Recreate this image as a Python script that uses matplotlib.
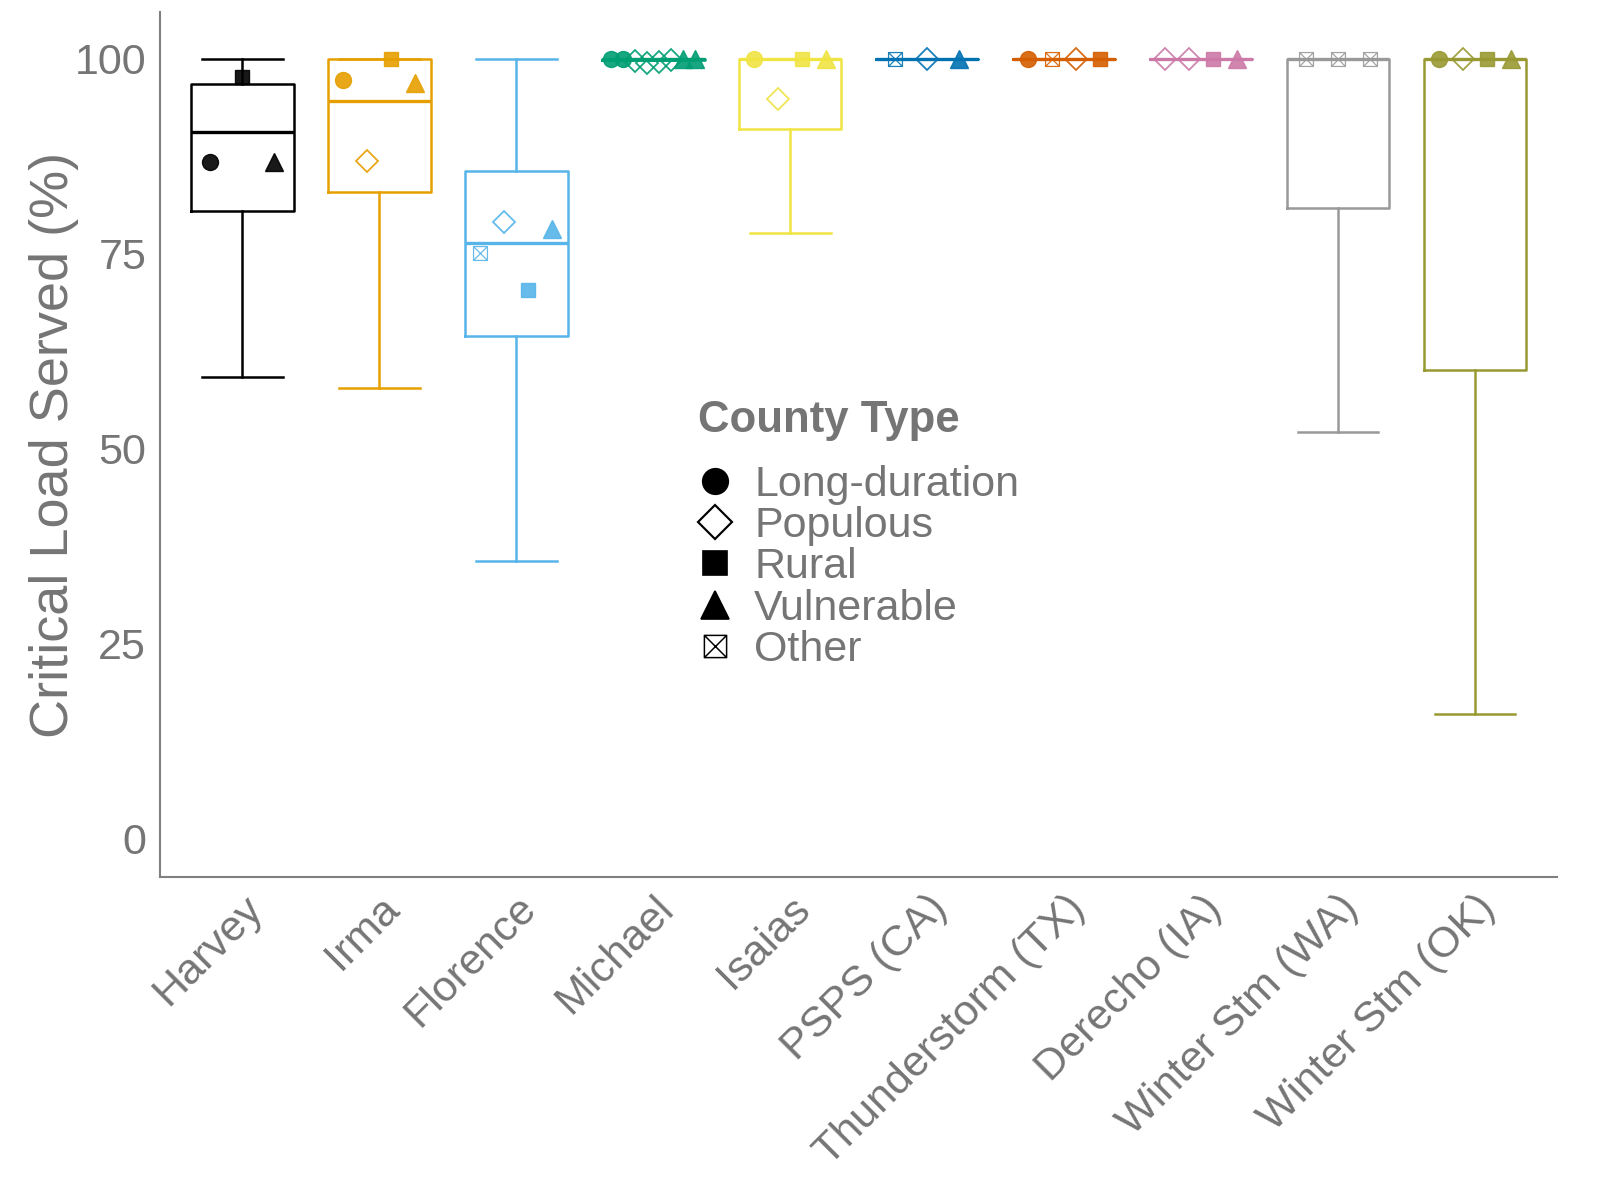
import matplotlib
matplotlib.use("Agg")
import matplotlib.pyplot as plt
from matplotlib.path import Path
from matplotlib.lines import Line2D
import matplotlib.transforms as mtransforms
import numpy as np

plt.rcParams['font.family'] = ['Liberation Sans', 'DejaVu Sans']

events = ["Harvey", "Irma", "Florence", "Michael", "Isaias", "PSPS (CA)",
          "Thunderstorm (TX)", "Derecho (IA)", "Winter Stm (WA)", "Winter Stm (OK)"]
colors = ["#000000", "#E69F00", "#56B4E9", "#009E73", "#F0E442", "#0072B2",
          "#D55E00", "#CC79A7", "#999999", "#999933"]

# box statistics (% critical load served)
whislo = [59.2, 57.8, 35.6, 99.8, 77.6, 100, 100, 100, 52.1, 15.9]
q1     = [80.5, 82.9, 64.4, 99.8, 91.0, 100, 100, 100, 80.8, 60.0]
med    = [90.6, 94.6, 76.3, 100, 100, 100, 100, 100, 100, 100]
q3     = [96.7, 100, 85.6, 100, 100, 100, 100, 100, 100, 100]
whishi = [100, 100, 100, 100, 100, 100, 100, 100, 100, 100]

# county-type points per event
pt_types = [
    ["Long-duration", "Rural", "Vulnerable"],
    ["Long-duration", "Populous", "Rural", "Vulnerable"],
    ["Other", "Populous", "Rural", "Vulnerable"],
    ["Long-duration", "Long-duration", "Populous", "Populous", "Populous", "Populous",
     "Vulnerable", "Vulnerable"],
    ["Long-duration", "Populous", "Rural", "Vulnerable"],
    ["Other", "Populous", "Vulnerable"],
    ["Long-duration", "Other", "Populous", "Rural"],
    ["Populous", "Populous", "Rural", "Vulnerable"],
    ["Other", "Other", "Other"],
    ["Long-duration", "Populous", "Rural", "Vulnerable"],
]
pt_values = [
    [86.7, 97.6, 86.8],
    [97.3, 86.9, 100, 96.9],
    [75.1, 79.0, 70.3, 78.2],
    [100, 100, 99.7, 99.5, 99.6, 99.8, 100, 100],
    [100, 94.9, 100, 100],
    [100, 100, 100],
    [100, 100, 100, 100],
    [100, 100, 100, 100],
    [100, 100, 100],
    [100, 100, 100, 100],
]

type_order = ["Long-duration", "Populous", "Rural", "Vulnerable", "Other"]

# boxed-X marker
other_marker = Path(
    [(-1, -1), (1, -1), (1, 1), (-1, 1), (-1, -1), (-1, -1), (1, 1), (-1, 1), (1, -1)],
    [Path.MOVETO, Path.LINETO, Path.LINETO, Path.LINETO, Path.CLOSEPOLY,
     Path.MOVETO, Path.LINETO, Path.MOVETO, Path.LINETO])

style = {
    "Long-duration": dict(marker="o", ms=11.5, filled=True, mew=1.0),
    "Populous": dict(marker="D", ms=11, filled=False, mew=1.3),
    "Rural": dict(marker="s", ms=10.5, filled=True, mew=1.0),
    "Vulnerable": dict(marker="^", ms=13, filled=True, mew=1.0),
    "Other": dict(marker=other_marker, ms=10, filled=False, mew=0.9),
}

fig = plt.figure(figsize=(16.2, 12.02), dpi=100)
ax = fig.add_axes([0.0988, 0.2704, 0.9612 - 0.0988, 0.99 - 0.2704])

positions = np.arange(1, len(events) + 1)
grey = "#757575"

for i, ev in enumerate(events):
    c = colors[i]
    stats = [dict(whislo=whislo[i], q1=q1[i], med=med[i], q3=q3[i], whishi=whishi[i], fliers=[])]
    ax.bxp(stats, positions=[positions[i]], widths=0.75, showfliers=False,
           capwidths=0.59, patch_artist=False,
           boxprops=dict(color=c, linewidth=1.8),
           whiskerprops=dict(color=c, linewidth=1.8),
           capprops=dict(color=c, linewidth=1.8),
           medianprops=dict(color=c, linewidth=2.4), manage_ticks=False)
    n = len(pt_values[i])
    for j, (t, v) in enumerate(zip(pt_types[i], pt_values[i])):
        xo = positions[i] + (j - (n - 1) / 2) * 0.7 / n
        s = style[t]
        ax.plot([xo], [v], linestyle="none", marker=s["marker"], markersize=s["ms"],
                markerfacecolor=c if s["filled"] else "none",
                markeredgecolor=c, markeredgewidth=s["mew"], alpha=0.9, zorder=3)

ax.set_xlim(0.4, 10.6)
ax.set_ylim(-5, 106)
ax.set_yticks([0, 25, 50, 75, 100])
ax.set_xticks(positions)
ax.set_xticklabels(events, rotation=45, ha="right", va="top", rotation_mode="anchor")
offset = mtransforms.ScaledTranslation(0.2, -0.05, fig.dpi_scale_trans)
for lbl in ax.get_xticklabels():
    lbl.set_transform(lbl.get_transform() + offset)
ax.tick_params(axis="both", length=0, labelsize=31, labelcolor=grey)
ax.tick_params(axis="y", pad=10)
ax.tick_params(axis="x", pad=8)
for sp in ["top", "right"]:
    ax.spines[sp].set_visible(False)
for sp in ["left", "bottom"]:
    ax.spines[sp].set_color("#808080")
    ax.spines[sp].set_linewidth(1.5)
ax.set_ylabel("Critical Load Served (%)", fontsize=39, color=grey)
ax.yaxis.set_label_coords(-0.0577, 0.5)

handles = []
for t in type_order:
    s = style[t]
    handles.append(Line2D([], [], linestyle="none", marker=s["marker"],
                          markersize=s["ms"] * 1.6,
                          markerfacecolor="black" if s["filled"] else "none",
                          markeredgecolor="black", markeredgewidth=s["mew"] * 1.2,
                          label=t))
ax.text(0.385, 0.528, "County Type", transform=ax.transAxes, fontsize=31.5,
        fontweight="bold", color=grey, ha="left", va="center")
leg = ax.legend(handles=handles, loc="center left",
                bbox_to_anchor=(0.379, 0.358), frameon=False, fontsize=31,
                labelspacing=0.03, handletextpad=0.3, borderpad=0,
                handlelength=1.2, borderaxespad=0)
for txt in leg.get_texts():
    txt.set_color(grey)

fig.savefig("out.png", dpi=100)
